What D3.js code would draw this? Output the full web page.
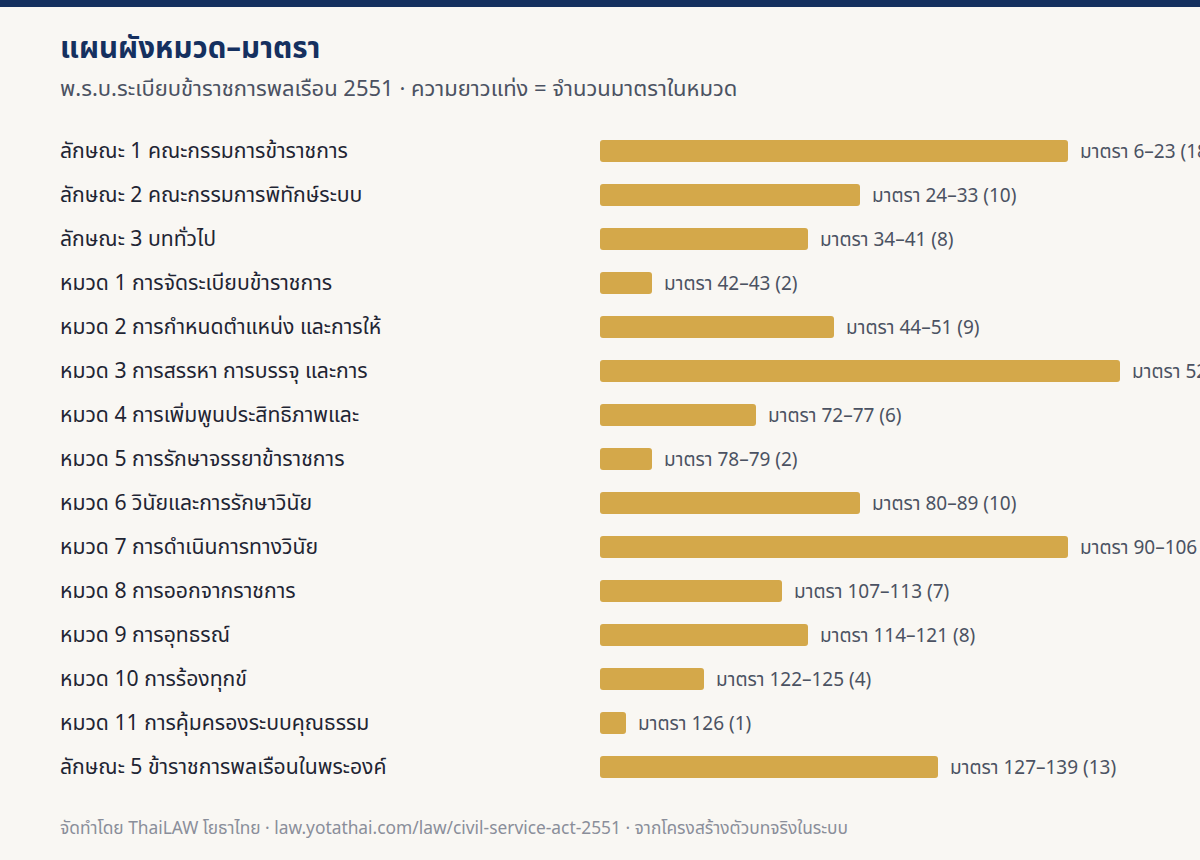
<!DOCTYPE html>
<html>
<head>
<meta charset="utf-8">
<script src="https://cdn.jsdelivr.net/npm/d3@7"></script>
<style>
  html,body{margin:0;padding:0;background:#f9f7f3;}
  svg{display:block;font-family:"Noto Sans Thai","Noto Sans",sans-serif;}
</style>
</head>
<body>
<svg id="chart"></svg>
<script>
// หมวด / ลักษณะ ของ พ.ร.บ.
var categories=[
  "ลักษณะ 1 คณะกรรมการข้าราชการ",
  "ลักษณะ 2 คณะกรรมการพิทักษ์ระบบ",
  "ลักษณะ 3 บททั่วไป",
  "หมวด 1 การจัดระเบียบข้าราชการ",
  "หมวด 2 การกำหนดตำแหน่ง และการให้",
  "หมวด 3 การสรรหา การบรรจุ และการ",
  "หมวด 4 การเพิ่มพูนประสิทธิภาพและ",
  "หมวด 5 การรักษาจรรยาข้าราชการ",
  "หมวด 6 วินัยและการรักษาวินัย",
  "หมวด 7 การดำเนินการทางวินัย",
  "หมวด 8 การออกจากราชการ",
  "หมวด 9 การอุทธรณ์",
  "หมวด 10 การร้องทุกข์",
  "หมวด 11 การคุ้มครองระบบคุณธรรม",
  "ลักษณะ 5 ข้าราชการพลเรือนในพระองค์"
]
var ranges=["6–23","24–33","34–41","42–43","44–51","52–71","72–77","78–79","80–89","90–106","107–113","114–121","122–125","126","127–139"]
var counts=[18,10,8,2,9,20,6,2,10,18,7,8,4,1,13]

var W=1200,H=860
var svg=d3.select("#chart").attr("width",W).attr("height",H)

svg.append("rect").attr("width",W).attr("height",7).attr("fill","#15305f")

svg.append("text")
   .attr("x",60).attr("y",58)
   .attr("font-size",29.5).attr("font-weight",700)
   .attr("fill","#15305f")
   .text("แผนผังหมวด–มาตรา")
svg.append("text")
   .attr("x",60).attr("y",96)
   .attr("font-size",22)
   .attr("fill","#4b5262")
   .text("พ.ร.บ.ระเบียบข้าราชการพลเรือน 2551 · ความยาวแท่ง = จำนวนมาตราในหมวด")

var xScale=d3.scaleLinear().domain([0,10]).range([600,860])
var yScale=d3.scaleBand()
             .domain(categories)
             .range([129,789])
             .paddingInner(0.5).paddingOuter(0.25)

var rows=svg.append("g").selectAll("g")
   .data(categories)
   .enter().append("g")
   .attr("transform",function(d){return "translate(0,"+(yScale(d)+yScale.bandwidth()/2)+")"})

rows.append("text")
    .attr("x",60).attr("dy","0.35em")
    .attr("font-size",21.2).attr("fill","#1f2533")
    .text(function(d){return d})

rows.append("rect")
    .attr("x",xScale(0))
    .attr("y",-yScale.bandwidth()/2)
    .attr("width",function(d,i){return xScale(counts[i])-xScale(0)})
    .attr("height",yScale.bandwidth())
    .attr("rx",3)
    .attr("fill","#d4a84a")

rows.append("text")
    .attr("x",function(d,i){return xScale(counts[i])+12})
    .attr("dy","0.35em")
    .attr("font-size",19).attr("fill","#4b5262")
    .text(function(d,i){return "มาตรา "+ranges[i]+" ("+counts[i]+")"})

svg.append("text")
   .attr("x",60).attr("y",834)
   .attr("font-size",17.35).attr("fill","#8a8e9a")
   .text("จัดทำโดย ThaiLAW โยธาไทย · law.yotathai.com/law/civil-service-act-2551 · จากโครงสร้างตัวบทจริงในระบบ")
</script>
</body>
</html>
